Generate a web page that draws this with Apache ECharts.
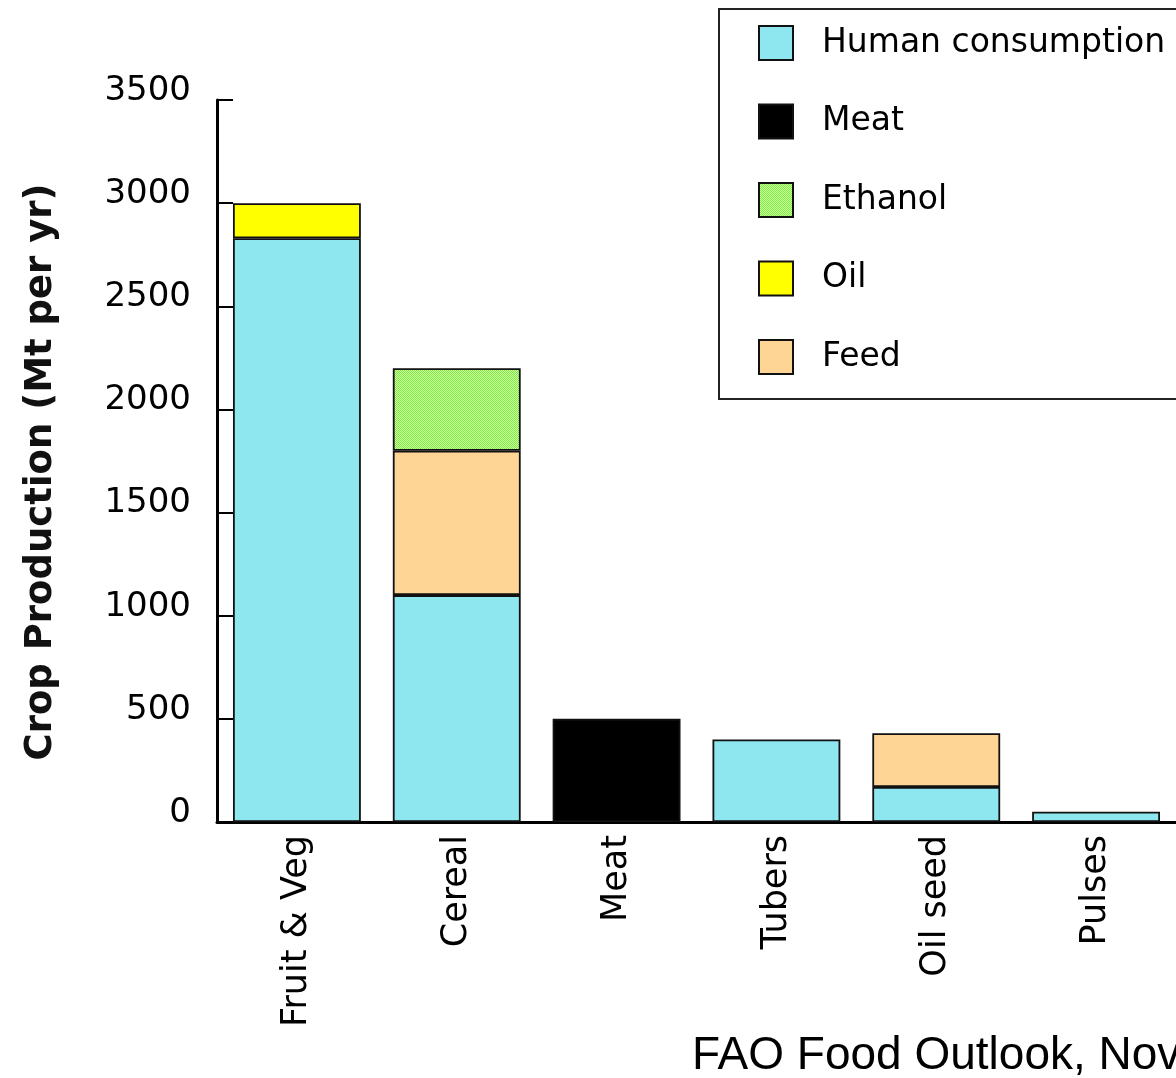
<!DOCTYPE html>
<html>
<head>
<meta charset="utf-8">
<script src="https://cdn.jsdelivr.net/npm/echarts@6/dist/echarts.min.js"></script>
<style>
  html, body { margin: 0; padding: 0; background: #fff; }
  #chart { width: 1176px; height: 1078px; }
</style>
</head>
<body>
<div id="chart"></div>
<script>
// Crop production by use (Mt per yr)
const categories = ['Fruit & Veg', 'Cereal', 'Meat', 'Tubers', 'Oil seed', 'Pulses'];
const humanConsumption = [2830, 1100, null, 400, 170, 50];
const meat = [null, null, 500, null, null, null];
const feed = [null, 700, null, null, 260, null];
const oil = [170, null, null, null, null, null];
const ethanol = [null, 400, null, null, null, null];
const yTicks = [0, 500, 1000, 1500, 2000, 2500, 3000, 3500];

const FONT = 'DejaVu Sans';

// stippled green fill for the ethanol segment
function stipple() {
  const c = document.createElement('canvas');
  c.width = 2; c.height = 2;
  const g = c.getContext('2d');
  g.fillStyle = '#d2ffb4'; g.fillRect(0, 0, 2, 2);
  g.fillStyle = '#7af030'; g.fillRect(0, 0, 1, 1); g.fillRect(1, 1, 1, 1);
  return { image: c, repeat: 'repeat' };
}

const border = { borderColor: '#111', borderWidth: 1.8 };

function bar(name, data, color) {
  return {
    name, type: 'bar', stack: 'use', data, barWidth: '80%',
    itemStyle: Object.assign({ color }, border),
    emphasis: { disabled: true }
  };
}

const chart = echarts.init(document.getElementById('chart'), null, { renderer: 'canvas' });
chart.setOption({
  animation: false,
  backgroundColor: '#fff',
  textStyle: { fontFamily: FONT },
  grid: { left: 217, right: 0, top: 100, bottom: 256, containLabel: false },
  xAxis: {
    type: 'category',
    data: categories,
    axisLine: { lineStyle: { color: '#000', width: 3 } },
    axisTick: { inside: true, length: 10, interval: 0, lineStyle: { color: '#000', width: 1.5 } },
    axisLabel: { rotate: 90, interval: 0, margin: 13, fontSize: 35, color: '#000', fontFamily: FONT }
  },
  yAxis: {
    type: 'value',
    min: yTicks[0], max: yTicks[yTicks.length - 1], interval: 500,
    name: 'Crop Production (Mt per yr)',
    nameLocation: 'middle',
    nameGap: 157,
    nameTextStyle: { fontSize: 37, fontWeight: 'bold', color: '#111', fontFamily: FONT, padding: [0, 22, 0, 0] },
    axisLine: { show: true, lineStyle: { color: '#000', width: 3 } },
    axisTick: { show: true, inside: true, length: 16, lineStyle: { color: '#000', width: 2 } },
    splitLine: { show: false },
    axisLabel: {
      margin: 26, fontSize: 34, color: '#000', fontFamily: FONT,
      verticalAlign: 'bottom', lineHeight: 18,
      formatter: v => String(v)
    }
  },
  legend: {
    orient: 'vertical',
    left: 758, top: 24, padding: 0,
    itemWidth: 34, itemHeight: 34, itemGap: 40.5,
    icon: 'rect',
    data: ['Human consumption', 'Meat', 'Ethanol', 'Oil', 'Feed'],
    textStyle: { fontSize: 33, lineHeight: 34, color: '#000', fontFamily: FONT, padding: [4, 0, 0, 24] },
    selectedMode: false
  },
  graphic: [
    {
      type: 'rect', left: 718, top: 8, z: -1,
      shape: { width: 480, height: 390 },
      style: { fill: '#fff', stroke: '#222', lineWidth: 2 }
    },
    {
      type: 'text', left: 692, top: 1033,
      style: { text: 'FAO Food Outlook, Nov 2007', font: '46px "Liberation Sans", Arial, sans-serif', fill: '#000' }
    }
  ],
  series: [
    bar('Human consumption', humanConsumption, '#8ee6ef'),
    bar('Meat', meat, '#000000'),
    bar('Feed', feed, '#ffd596'),
    bar('Oil', oil, '#ffff00'),
    bar('Ethanol', ethanol, stipple())
  ]
});
</script>
</body>
</html>
